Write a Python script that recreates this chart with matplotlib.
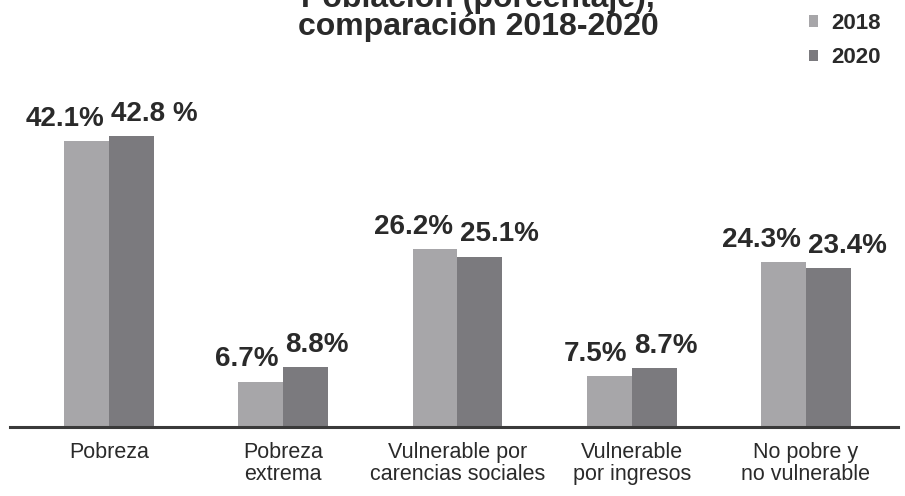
import matplotlib
matplotlib.use('Agg')
import matplotlib.pyplot as plt
import numpy as np

categories = ['Pobreza', 'Pobreza\nextrema', 'Vulnerable por\ncarencias sociales',
              'Vulnerable\npor ingresos', 'No pobre y\nno vulnerable']
values_2018 = [42.1, 6.7, 26.2, 7.5, 24.3]
values_2020 = [42.8, 8.8, 25.1, 8.7, 23.4]
labels_2018 = ['42.1%', '6.7%', '26.2%', '7.5%', '24.3%']
labels_2020 = ['42.8 %', '8.8%', '25.1%', '8.7%', '23.4%']
series_names = ['2018', '2020']

color_2018 = '#a7a6a9'
color_2020 = '#7b7a7e'
text_color = '#2a2a2a'
bold_font = ['Liberation Sans', 'DejaVu Sans']

fig = plt.figure(figsize=(9.05, 4.96), dpi=100)
# axes placed so the baseline sits near the bottom, bars span the width
ax = fig.add_axes([10 / 905, 69 / 496, 888 / 905, 330 / 496])

x = np.arange(len(categories))
w = 0.258
b1 = ax.bar(x - w / 2, values_2018, width=w, color=color_2018, label=series_names[0])
b2 = ax.bar(x + w / 2, values_2020, width=w, color=color_2020, label=series_names[1])

ax.set_xlim(-0.568, 4.528)
ax.set_ylim(0, 48.6)

for i in range(len(categories)):
    ax.annotate(labels_2018[i], (x[i], values_2018[i]), xytext=(-3.5, 11),
                textcoords='offset points', ha='right', va='baseline',
                fontsize=20, fontweight='bold', family=bold_font, color=text_color)
    ax.annotate(labels_2020[i], (x[i], values_2020[i]), xytext=(1.5, 11),
                textcoords='offset points', ha='left', va='baseline',
                fontsize=20, fontweight='bold', family=bold_font, color=text_color)

for side in ['top', 'right', 'left']:
    ax.spines[side].set_visible(False)
ax.spines['bottom'].set_color('#3a3a3a')
ax.spines['bottom'].set_linewidth(2.2)
ax.set_yticks([])
ax.set_xticks(x)
ax.set_xticklabels(categories, family=bold_font, fontsize=15.5, color=text_color)
ax.tick_params(axis='x', length=0, pad=11)
for lbl in ax.get_xticklabels():
    lbl.set_linespacing(1.02)

# title, first line is cut off by the top edge as in the scan
fig.text(478 / 905, 1 - 7 / 496, 'Población (porcentaje),', ha='center', va='baseline',
         fontsize=23, fontweight='bold', family=bold_font, color=text_color)
fig.text(478 / 905, 1 - 35 / 496, 'comparación 2018-2020', ha='center', va='baseline',
         fontsize=23, fontweight='bold', family=bold_font, color=text_color)

leg = fig.legend(handles=[b1, b2], loc='upper left', bbox_to_anchor=(789 / 905, 1 + 7 / 496),
                 frameon=False, handlelength=0.4, handleheight=0.4, handletextpad=0.6,
                 labelspacing=0.6, prop={'family': bold_font, 'weight': 'bold', 'size': 16})
for t in leg.get_texts():
    t.set_color(text_color)

fig.savefig('out.png', dpi=100)
